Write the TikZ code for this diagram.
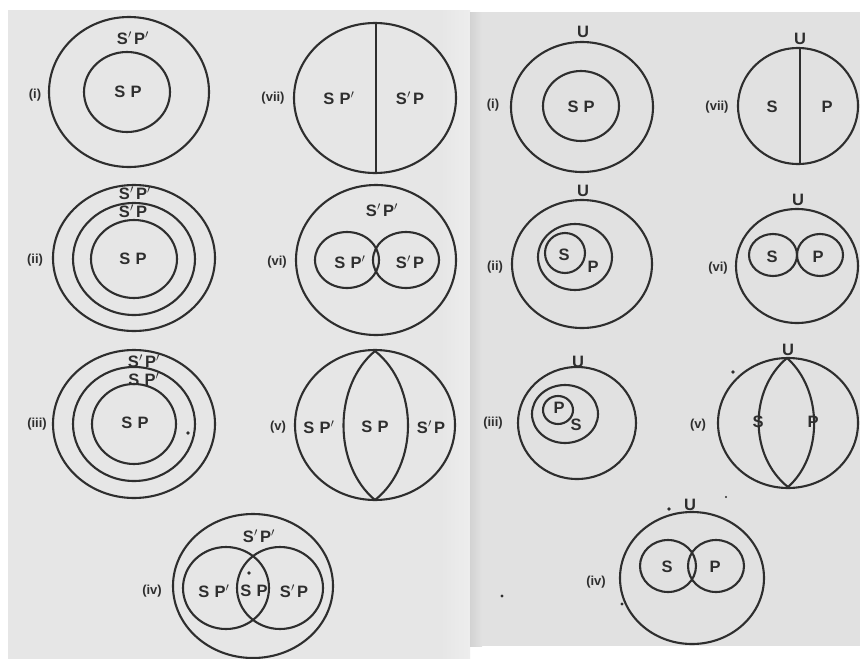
\documentclass[tikz,border=0pt]{standalone}
\usepackage{fontspec}
\setmainfont{Liberation Sans}[BoldFont={Liberation Sans Bold}]
\definecolor{ink}{HTML}{2E2E2E}
\definecolor{paperL}{HTML}{E6E6E6}
\definecolor{paperR}{HTML}{E1E1E1}
\newcommand\pr{\rlap{$^{\prime}$}\hspace{1pt}}
\newcommand\two[2]{#1\hspace{5pt}#2}
\begin{document}
\begin{tikzpicture}[x=1pt,y=-1pt,
  circ/.style={draw=ink, line width=2.1pt},
  lab/.style={font=\bfseries\fontsize{16.5}{17}\selectfont, text=ink, inner sep=0pt},
  num/.style={font=\bfseries\fontsize{13}{13}\selectfont, text=ink, inner sep=0pt},
  speck/.style={fill=ink, draw=none}]
\useasboundingbox (0,0) rectangle (860,659);
% paper
\fill[white] (0,0) rectangle (860,659);
\fill[paperL] (8,10) rectangle (463,659);
\shade[left color=paperL, right color=white!93!black] (440,10) rectangle (470,659);
\fill[paperR] (470,12) rectangle (860,646);
\shade[left color=gray!35, right color=paperR] (470,12) rectangle (482,646);

%================ LEFT PAGE ================
% (i)
\draw[circ] (129,92) ellipse [x radius=80pt, y radius=75pt];
\draw[circ] (127,92) ellipse [x radius=43pt, y radius=40pt];
\node[num] (Li) at (35,95) {(i)};
\node[lab] (Li1) at (131,38) {\two{S\pr}{P\pr}};
\node[lab] (Li2) at (128,92) {\two{S}{P}};
% (vii)
\draw[circ] (375,98) ellipse [x radius=81pt, y radius=75pt];
\coordinate (Lvt) at (376,23);
\coordinate (Lvb) at (376,173);
\draw[circ] (Lvt) -- (Lvb);
\node[num] (Lvii) at (273,98) {(vii)};
\node[lab] (Lvii1) at (337,98) {\two{S}{P\pr}};
\node[lab] (Lvii2) at (410,98) {\two{S\pr}{P}};
% (ii)
\draw[circ] (134,258) ellipse [x radius=81pt, y radius=73pt];
\draw[circ] (134,259) ellipse [x radius=61pt, y radius=56pt];
\draw[circ] (134,259) ellipse [x radius=43pt, y radius=39pt];
\node[num] (Lii) at (35,260) {(ii)};
\node[lab] (Lii1) at (133,193) {\two{S\pr}{P\pr}};
\node[lab] (Lii2) at (133,211) {\two{S\pr}{P}};
\node[lab] (Lii3) at (133,259) {\two{S}{P}};
% (iii)
\draw[circ] (134,424) ellipse [x radius=81pt, y radius=74pt];
\draw[circ] (134,424) ellipse [x radius=61pt, y radius=57pt];
\draw[circ] (134,424) ellipse [x radius=42pt, y radius=40pt];
\node[num] (Liii) at (37,424) {(iii)};
\node[lab] (Liii1) at (142,361) {\two{S\pr}{P\pr}};
\node[lab] (Liii2) at (142,379) {\two{S}{P\pr}};
\node[lab] (Liii3) at (135,423) {\two{S}{P}};
\fill[speck] (188,433) circle [radius=1.8pt];
% (vi)
\draw[circ] (376,260) ellipse [x radius=80pt, y radius=75pt];
\draw[circ] (347,260) ellipse [x radius=32pt, y radius=28pt];
\draw[circ] (406,260) ellipse [x radius=33pt, y radius=28pt];
\node[num] (Lvi) at (277,262) {(vi)};
\node[lab] (Lvi1) at (380,210) {\two{S\pr}{P\pr}};
\node[lab] (Lvi2) at (348,262) {\two{S}{P\pr}};
\node[lab] (Lvi3) at (410,262) {\two{S\pr}{P}};
% (v)
\draw[circ] (375,425) ellipse [x radius=80pt, y radius=75pt];
\coordinate (Lvtop) at (375,351);
\coordinate (Lvbot) at (375,500);
\draw[circ] (Lvtop) .. controls (333,386) and (333,465) .. (Lvbot);
\draw[circ] (Lvtop) .. controls (419,386) and (419,465) .. (Lvbot);
\node[num] (Lv) at (278,427) {(v)};
\node[lab] (Lv1) at (317,427) {\two{S}{P\pr}};
\node[lab] (Lv2) at (375,427) {\two{S}{P}};
\node[lab] (Lv3) at (431,427) {\two{S\pr}{P}};
% (iv)
\draw[circ] (253,586) ellipse [x radius=80pt, y radius=72pt];
\draw[circ] (226,588) ellipse [x radius=43pt, y radius=41pt];
\draw[circ] (280,588) ellipse [x radius=43pt, y radius=41pt];
\node[num] (Liv) at (152,591) {(iv)};
\node[lab] (Liv1) at (257,536) {\two{S\pr}{P\pr}};
\node[lab] (Liv2) at (212,591) {\two{S}{P\pr}};
\node[lab] (Liv3) at (254,591) {\two{S}{P}};
\node[lab] (Liv4) at (294,591) {\two{S\pr}{P}};
\fill[speck] (249,573) circle [radius=1.8pt];

%================ RIGHT PAGE ================
% (i)
\draw[circ] (582,107) ellipse [x radius=71pt, y radius=65pt];
\draw[circ] (581,106) ellipse [x radius=38pt, y radius=35pt];
\node[lab] (Ri0) at (583,32) {U};
\node[num] (Ri) at (493,105) {(i)};
\node[lab] (Ri1) at (581,107) {\two{S}{P}};
% (vii)
\draw[circ] (798,106) ellipse [x radius=60pt, y radius=58pt];
\coordinate (Rvt) at (800,48);
\coordinate (Rvb) at (800,164);
\draw[circ] (Rvt) -- (Rvb);
\node[lab] (Rvii0) at (800,39) {U};
\node[num] (Rvii) at (717,107) {(vii)};
\node[lab] (Rvii1) at (772,107) {S};
\node[lab] (Rvii2) at (827,107) {P};
% (ii)
\draw[circ] (582,264) ellipse [x radius=70pt, y radius=64pt];
\draw[circ] (575,257) ellipse [x radius=37pt, y radius=33pt];
\draw[circ] (565,253) ellipse [x radius=20pt, y radius=20pt];
\node[lab] (Rii0) at (583,191) {U};
\node[num] (Rii) at (495,267) {(ii)};
\node[lab] (Rii1) at (564,255) {S};
\node[lab] (Rii2) at (593,267) {P};
% (vi)
\draw[circ] (797,266) ellipse [x radius=61pt, y radius=57pt];
\draw[circ] (773,255) ellipse [x radius=24pt, y radius=21pt];
\draw[circ] (820,255) ellipse [x radius=23pt, y radius=21pt];
\node[lab] (Rvi0) at (798,200) {U};
\node[num] (Rvi) at (718,268) {(vi)};
\node[lab] (Rvi1) at (772,257) {S};
\node[lab] (Rvi2) at (818,257) {P};
% (iii)
\draw[circ] (577,423) ellipse [x radius=59pt, y radius=56pt];
\draw[circ] (565,414) ellipse [x radius=33pt, y radius=29pt];
\draw[circ] (558,410) ellipse [x radius=15pt, y radius=14pt];
\node[lab] (Riii0) at (578,362) {U};
\node[num] (Riii) at (493,423) {(iii)};
\node[lab] (Riii1) at (559,408) {P};
\node[lab] (Riii2) at (576,425) {S};
% (v)
\draw[circ] (788,423) ellipse [x radius=70pt, y radius=65pt];
\coordinate (Rvtop) at (787,358);
\coordinate (Rvbot) at (788,487);
\draw[circ] (Rvtop) .. controls (749,390) and (749,456) .. (Rvbot);
\draw[circ] (Rvtop) .. controls (823,390) and (823,456) .. (Rvbot);
\node[lab] (Rv0) at (788,350) {U};
\node[num] (Rv) at (698,425) {(v)};
\node[lab] (Rv1) at (758,422) {S};
\node[lab] (Rv2) at (813,422) {P};
\fill[speck] (733,372) circle [radius=1.8pt];
% (iv)
\draw[circ] (692,578) ellipse [x radius=72pt, y radius=66pt];
\draw[circ] (668,566) ellipse [x radius=28pt, y radius=26pt];
\draw[circ] (716,566) ellipse [x radius=28pt, y radius=26pt];
\node[lab] (Riv0) at (690,505) {U};
\node[num] (Riv) at (596,582) {(iv)};
\node[lab] (Riv1) at (667,567) {S};
\node[lab] (Riv2) at (715,567) {P};
\fill[speck] (669,509) circle [radius=1.8pt];
\fill[speck] (502,596) circle [radius=1.6pt];
\fill[speck] (622,604) circle [radius=1.6pt];
\fill[speck] (726,497) circle [radius=1.2pt];
\end{tikzpicture}
\end{document}
